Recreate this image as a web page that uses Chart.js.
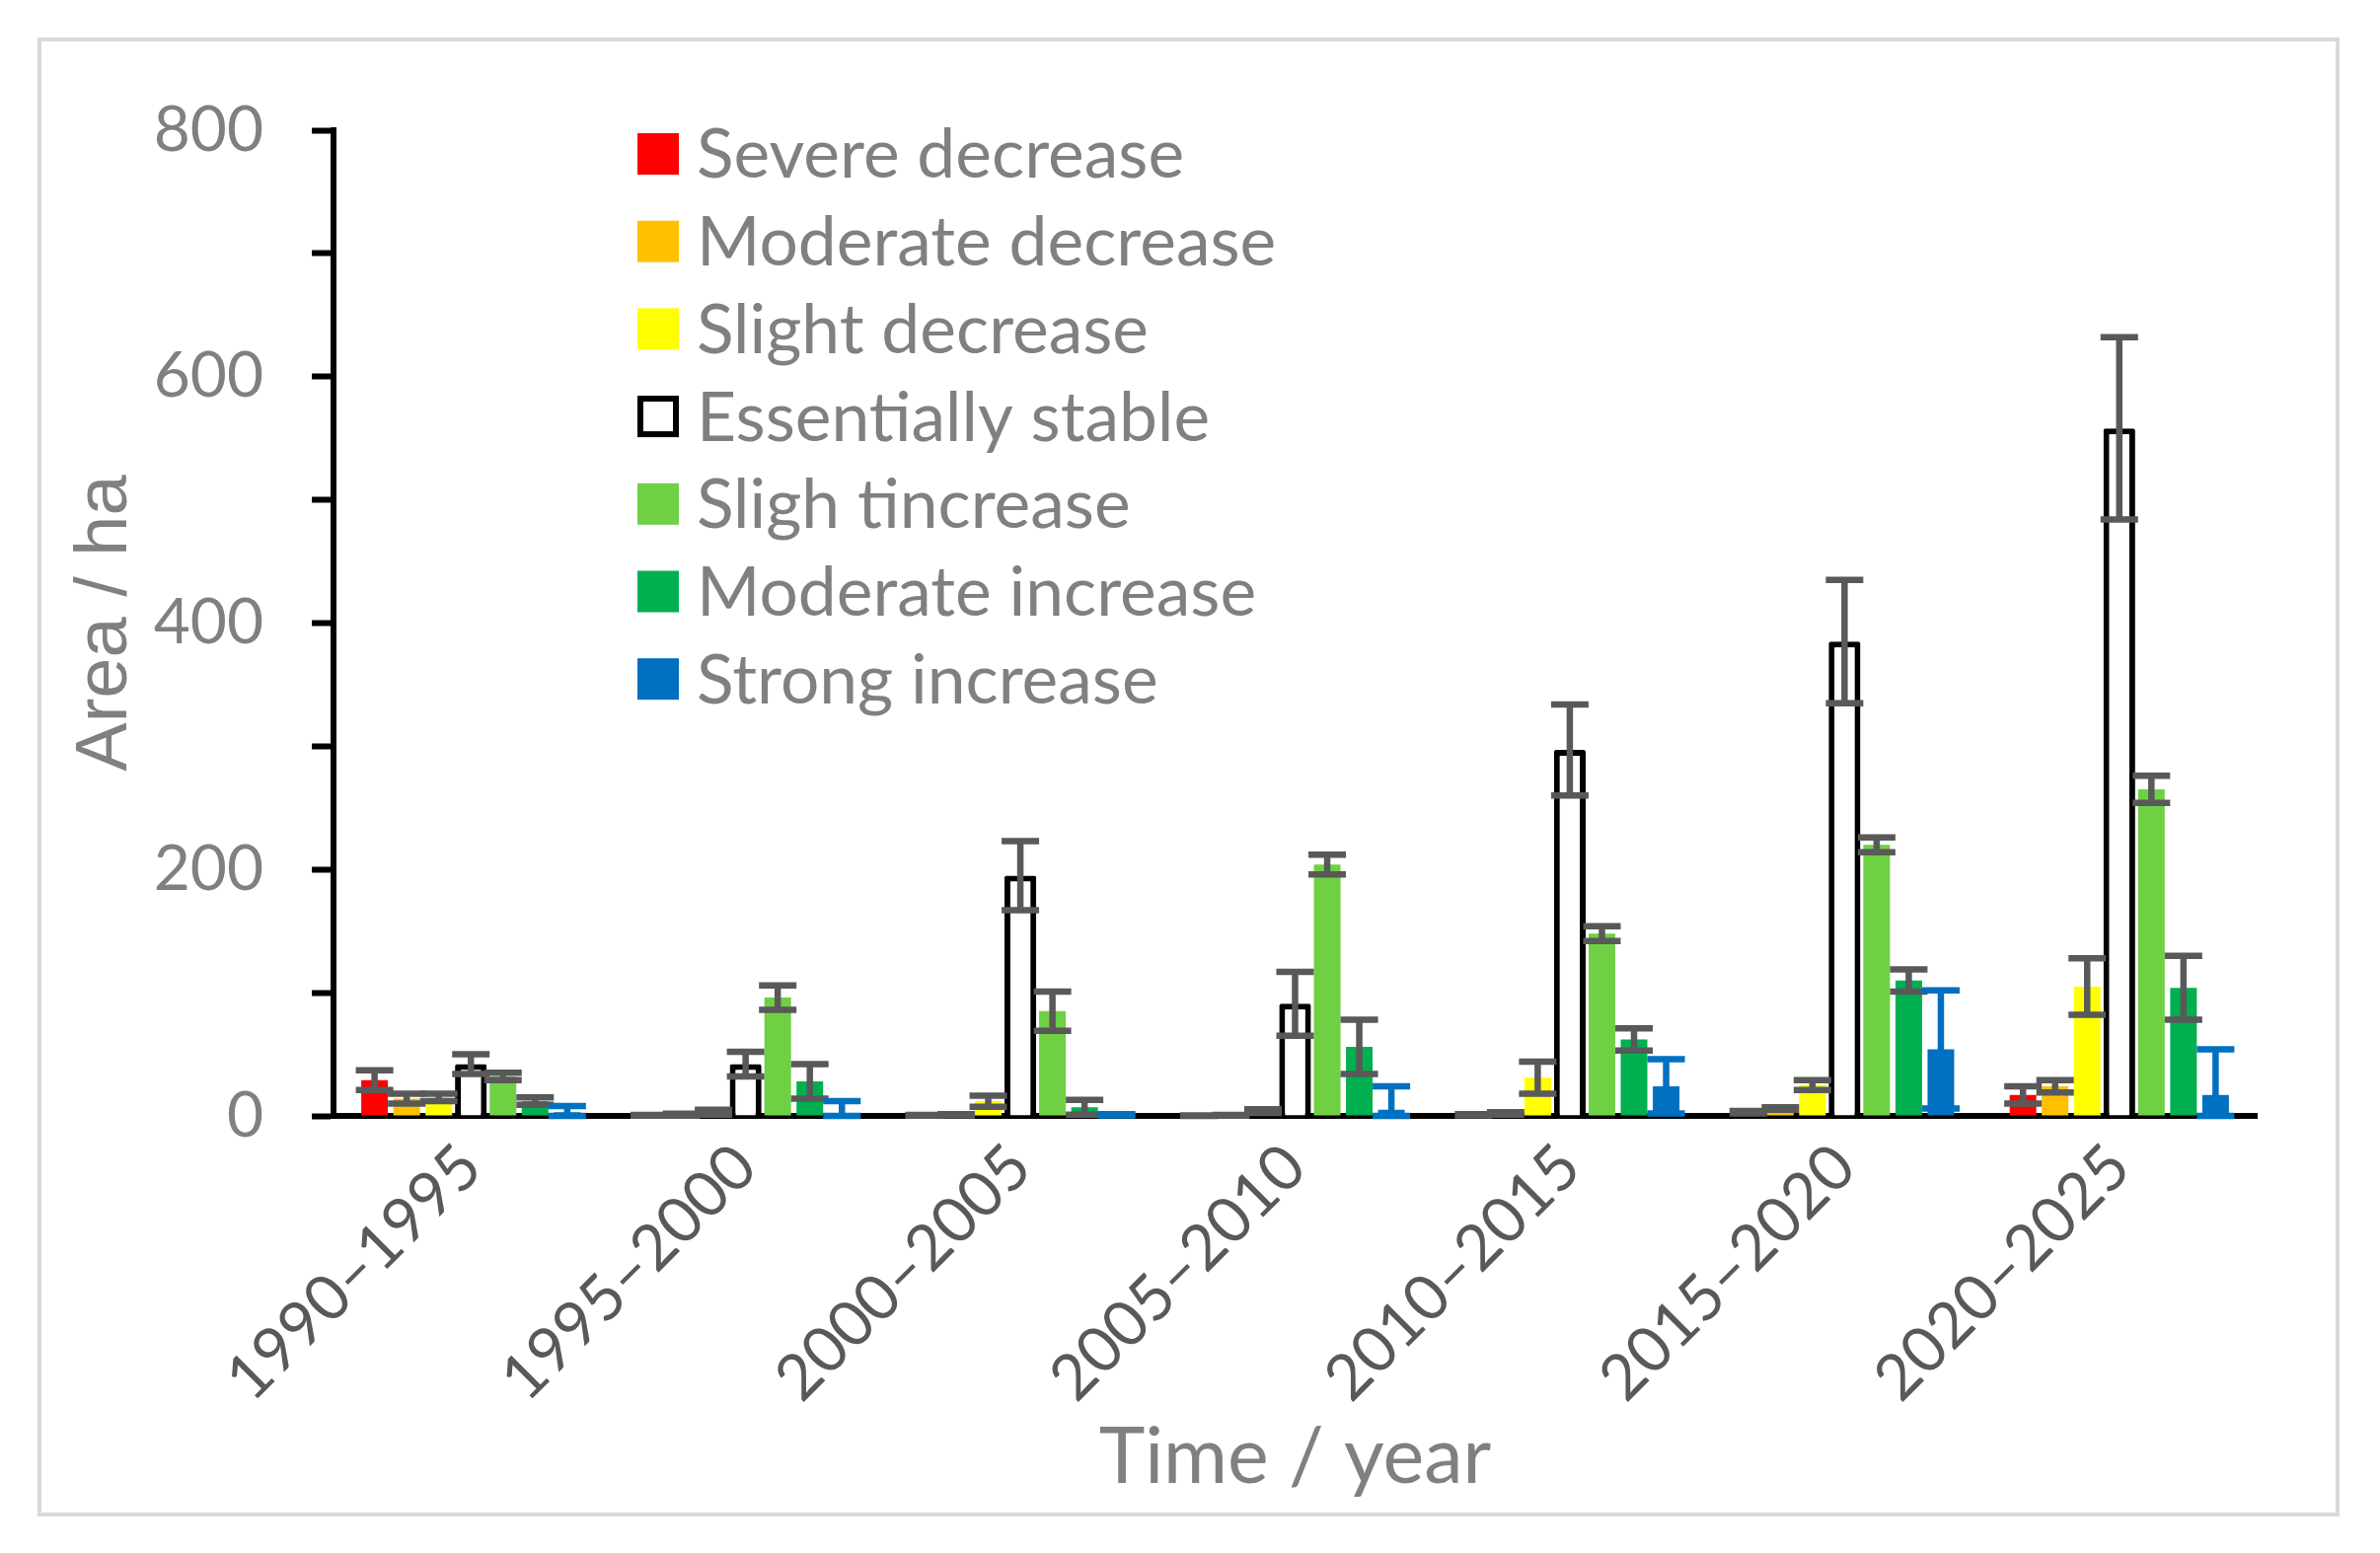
<!DOCTYPE html>
<html>
<head>
<meta charset="utf-8">
<title>Area change by period</title>
<script src="https://cdn.jsdelivr.net/npm/chart.js@4.4.1/dist/chart.umd.min.js"></script>
<style>
  html, body { margin: 0; padding: 0; background: #fff; }
  canvas { display: block; }
</style>
</head>
<body>
<canvas id="areaChart" width="2412" height="1574"></canvas>
<script>
// periods on the x axis
const periods = ['1990–1995', '1995–2000', '2000–2005', '2005–2010', '2010–2015', '2015–2020', '2020–2025'];

// area (ha) per class
const severeDecrease   = [29, 0.5, 0.5, 0.3, 1, 3, 17];
const moderateDecrease = [14, 1, 1, 0.5, 2, 6, 24];
const slightDecrease   = [15, 3, 12, 4, 31, 25, 105];
const essentiallyStable = [42, 42, 195, 91, 297, 385, 558];
const slightIncrease   = [32, 96, 85, 204, 148, 220, 265];
const moderateIncrease = [12, 28, 7, 56, 62, 110, 104];
const strongIncrease   = [3, 2, 1, 5, 24, 54, 17];

// error bar half-lengths (ha)
const severeDecreaseErr   = [8, 0.3, 0.3, 0.2, 0.5, 1, 7];
const moderateDecreaseErr = [4, 0.8, 0.5, 0.3, 1, 1, 5];
const slightDecreaseErr   = [3, 2, 4.5, 1.5, 13, 4, 23];
const essentiallyStableErr = [8, 10, 28, 26, 37, 50, 74];
const slightIncreaseErr   = [3, 10, 16, 8, 6, 6, 11];
const moderateIncreaseErr = [3, 14, 6, 22, 9, 9, 26];
const strongIncreaseErr   = [5, 10, 0.5, 19, 22, 48, 37];

// y axis
const yMin = 0;
const yMax = 800;
const yStep = 100;
const yLabelStep = 200;

const GRAY_TEXT = '#808080';
const DARK_TEXT = '#595959';
const ERR_GRAY = '#595959';

function bar(label, data, errors, fill, errColor) {
    return {
        label: label,
        data: data,
        errors: errors,
        errorColor: errColor || ERR_GRAY,
        backgroundColor: fill,
        borderWidth: 0,
        barPercentage: 0.83,
        categoryPercentage: 0.818
    };
}

const datasets = [
    bar('Severe decrease', severeDecrease, severeDecreaseErr, '#FF0000'),
    bar('Moderate decrease', moderateDecrease, moderateDecreaseErr, '#FFC000'),
    bar('Slight decrease', slightDecrease, slightDecreaseErr, '#FFFF00'),
    Object.assign(bar('Essentially stable', essentiallyStable, essentiallyStableErr, '#FFFFFF'), {
        borderColor: '#000000',
        borderWidth: 6,
        borderSkipped: 'bottom',
        borderRadius: 2,
        barPercentage: 0.99
    }),
    bar('Sligh tincrease', slightIncrease, slightIncreaseErr, '#6FD044'),
    bar('Moderate increase', moderateIncrease, moderateIncreaseErr, '#00B050'),
    bar('Strong increase', strongIncrease, strongIncreaseErr, '#0070C0', '#0070C0')
];

// outer frame and white page
const framePlugin = {
    id: 'frame',
    beforeDraw(chart) {
        const ctx = chart.ctx;
        ctx.save();
        ctx.fillStyle = '#ffffff';
        ctx.fillRect(0, 0, chart.width, chart.height);
        ctx.strokeStyle = '#D9D9D9';
        ctx.lineWidth = 4;
        ctx.strokeRect(40, 40, chart.width - 83, chart.height - 79);
        ctx.restore();
    }
};

// error bars drawn on top of all bars
const errorBarPlugin = {
    id: 'errorBars',
    afterDatasetsDraw(chart) {
        const ctx = chart.ctx;
        const yScale = chart.scales.y;
        const capHalf = 19;
        ctx.save();
        ctx.lineWidth = 6.5;
        ctx.lineCap = 'butt';
        chart.data.datasets.forEach((ds, i) => {
            const meta = chart.getDatasetMeta(i);
            ctx.strokeStyle = ds.errorColor;
            meta.data.forEach((el, j) => {
                const v = ds.data[j];
                const e = ds.errors[j];
                const yTop = yScale.getPixelForValue(v + e);
                const yBot = yScale.getPixelForValue(Math.max(yMin, v - e));
                const x = el.x;
                ctx.beginPath();
                ctx.moveTo(x, yTop);
                ctx.lineTo(x, yBot);
                ctx.moveTo(x - capHalf, yTop);
                ctx.lineTo(x + capHalf, yTop);
                ctx.moveTo(x - capHalf, yBot);
                ctx.lineTo(x + capHalf, yBot);
                ctx.stroke();
            });
        });
        ctx.restore();
    }
};

// legend inside the plot, top left
const legendPlugin = {
    id: 'innerLegend',
    afterDraw(chart) {
        const ctx = chart.ctx;
        const area = chart.chartArea;
        const boxX = area.left + 308;
        const box = 42;
        const textX = boxX + 60;
        const firstY = area.top + 24;
        const rowStep = 88.7;
        ctx.save();
        ctx.font = '69.5px Lato';
        ctx.textBaseline = 'middle';
        ctx.textAlign = 'left';
        chart.data.datasets.forEach((ds, i) => {
            const cy = firstY + i * rowStep;
            if (ds.borderWidth) {
                ctx.fillStyle = '#ffffff';
                ctx.fillRect(boxX, cy - box / 2, box, box);
                ctx.strokeStyle = '#000000';
                ctx.lineWidth = 6;
                ctx.strokeRect(boxX + 3, cy - box / 2 + 3, box - 6, box - 6);
            } else {
                ctx.fillStyle = ds.backgroundColor;
                ctx.fillRect(boxX, cy - box / 2, box, box);
            }
            ctx.fillStyle = GRAY_TEXT;
            ctx.fillText(ds.label, textX, cy + 2);
        });
        ctx.restore();
    }
};

new Chart(document.getElementById('areaChart'), {
    type: 'bar',
    data: { labels: periods, datasets: datasets },
    options: {
        responsive: false,
        animation: false,
        devicePixelRatio: 1,
        layout: { padding: { left: 0, top: 132, right: 125, bottom: 0 } },
        plugins: {
            legend: { display: false },
            tooltip: { enabled: false }
        },
        scales: {
            x: {
                grid: { display: false, drawTicks: false },
                border: { display: true, color: '#000000', width: 6 },
                ticks: {
                    color: DARK_TEXT,
                    font: { family: 'Lato', size: 64 },
                    minRotation: 45,
                    maxRotation: 45,
                    padding: 14
                },
                title: {
                    display: true,
                    text: 'Time / year',
                    color: GRAY_TEXT,
                    font: { family: 'Lato', size: 79 },
                    padding: { top: 0, bottom: 49 }
                },
                afterFit(scale) { scale.height = 443; }
            },
            y: {
                min: yMin,
                max: yMax,
                grid: {
                    drawOnChartArea: false,
                    drawTicks: true,
                    tickLength: 22,
                    tickWidth: 6,
                    tickColor: '#000000'
                },
                border: { display: true, color: '#000000', width: 6 },
                ticks: {
                    stepSize: yStep,
                    color: GRAY_TEXT,
                    font: { family: 'Lato', size: 64 },
                    padding: 49,
                    callback: v => (v % yLabelStep === 0 ? String(v) : '')
                },
                title: {
                    display: true,
                    text: 'Area / ha',
                    color: GRAY_TEXT,
                    font: { family: 'Liberation Sans', size: 74 },
                    padding: { top: 63, bottom: 0 }
                },
                afterFit(scale) { scale.width = 338; }
            }
        }
    },
    plugins: [framePlugin, errorBarPlugin, legendPlugin]
});
</script>
</body>
</html>
